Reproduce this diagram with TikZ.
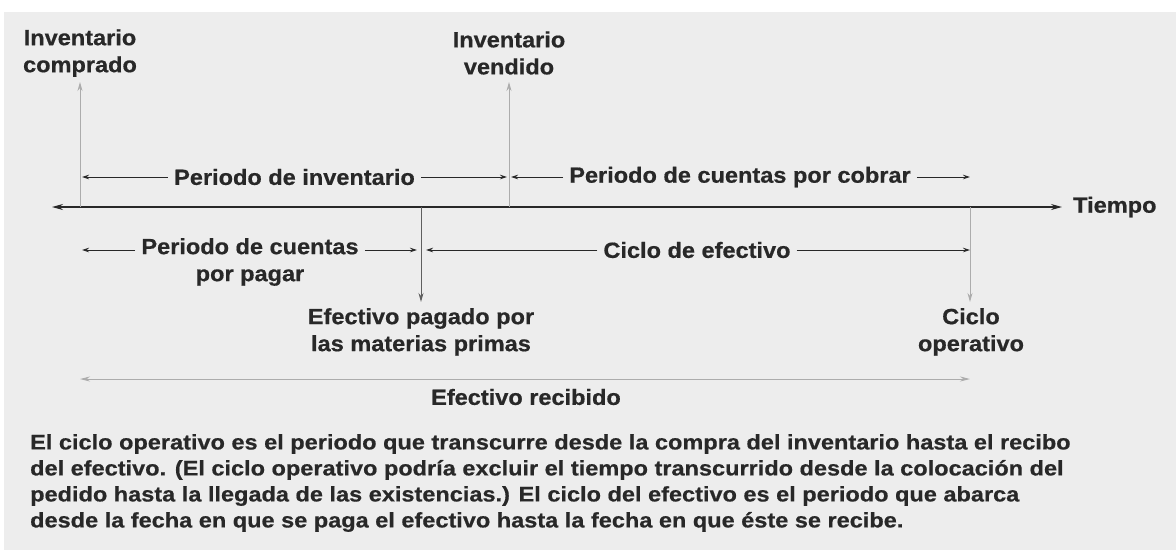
\documentclass[tikz,border=0pt]{standalone}
\usepackage{fontspec}
\setmainfont{Liberation Sans}
\newfontfamily\labfont[FakeStretch=1.07,FakeBold=0.6]{Liberation Sans}
\newfontfamily\parfont[FakeStretch=1.12,FakeBold=0.6]{Liberation Sans}
\usetikzlibrary{arrows.meta}
\definecolor{bg}{RGB}{237,237,237}
\definecolor{txt}{RGB}{40,40,40}
\definecolor{lgray}{RGB}{172,172,172}
\definecolor{mgray}{RGB}{95,95,95}
\begin{document}
\begin{tikzpicture}[x=1pt,y=-1pt,
  lbl/.style={font=\labfont\bfseries\fontsize{22}{27}\selectfont, text=txt, inner xsep=6pt, inner ysep=0pt, align=center},
  para/.style={font=\parfont\bfseries\fontsize{21}{26}\selectfont, text=txt, inner sep=0pt, align=left},
  dim/.style={-{Stealth[length=7pt,width=4.5pt]}, line width=0.8pt, draw=txt},
  uparrow/.style={-{Stealth[length=9pt,width=5pt]}, line width=1pt, draw=lgray},
  axis/.style={{Stealth[length=11pt,width=6pt]}-{Stealth[length=11pt,width=6pt]}, line width=1.2pt, draw=txt},
]
\useasboundingbox (0,0) rectangle (1176,550);
\fill[white] (0,0) rectangle (1176,550);
\fill[bg] (4,12) rectangle (1176,550);

% key points on the time axis
\coordinate (L) at (52,207);
\coordinate (R) at (1062,207);
\coordinate (A) at (80,207);
\coordinate (B) at (421,207);
\coordinate (C) at (509,207);
\coordinate (D) at (970,207);
\coordinate (A0) at (80,82);
\coordinate (C0) at (509,82);
\coordinate (B1) at (421,302);
\coordinate (D1) at (970,302);
\coordinate (r2) at (0,250);
\coordinate (E1) at (80,379);
\coordinate (E2) at (970,379);

% axis
\draw[axis] (L) -- (R);
\node[lbl, anchor=west, inner xsep=0pt] (tiempo) at (1073,207) {Tiempo};

% top labels and arrows
\node[lbl] (ic) at (80,53) {Inventario\\comprado};
\node[lbl] (iv) at (509,53) {Inventario\\vendido};
\draw[uparrow] (A) -- (A0);
\draw[uparrow] (C) -- (C0);

% row 1
\node[lbl] (pi) at (294.5,177) {Periodo de inventario};
\draw[dim, shorten >=2pt] (pi.west) -- (A |- pi);
\draw[dim, shorten >=2pt] (pi.east) -- (C |- pi);
\node[lbl] (pcc) at (740,177) {Periodo de cuentas por cobrar};
\draw[dim, shorten >=2pt] (pcc.west) -- (C |- pcc);
\draw[dim] (pcc.east) -- (D |- pcc);

% down arrows
\draw[-{Stealth[length=9pt,width=5pt]}, line width=1pt, draw=mgray] (B) -- (B1);
\draw[uparrow] (D) -- (D1);

% row 2
\node[lbl, anchor=north] (pcp) at (250,238) {Periodo de cuentas\\por pagar};
\draw[dim, shorten >=2pt] (pcp.west |- r2) -- (A |- r2);
\draw[dim, shorten >=4pt] (pcp.east |- r2) -- (B |- r2);
\node[lbl] (ce) at (697,250) {Ciclo de efectivo};
\draw[dim, shorten >=5pt] (ce.west) -- (B |- ce);
\draw[dim] (ce.east) -- (D |- ce);

% bottom labels
\node[lbl, anchor=north] (ep) at (421,308) {Efectivo pagado por\\las materias primas};
\node[lbl, anchor=north] (co) at (971,308) {Ciclo\\operativo};

% cash received
\draw[{Stealth[length=10pt,width=5pt]}-{Stealth[length=10pt,width=5pt]}, line width=1pt, draw=lgray] (E1) -- (E2);
\node[lbl] (er) at (526,397) {Efectivo recibido};

% explanation
\node[para, anchor=north west] (txt) at (30,434) {El ciclo operativo es el periodo que transcurre desde la compra del inventario hasta el recibo\\
del efectivo. (El ciclo operativo podría excluir el tiempo transcurrido desde la colocación del\\
pedido hasta la llegada de las existencias.) El ciclo del efectivo es el periodo que abarca\\
desde la fecha en que se paga el efectivo hasta la fecha en que éste se recibe.};
\end{tikzpicture}
\end{document}
